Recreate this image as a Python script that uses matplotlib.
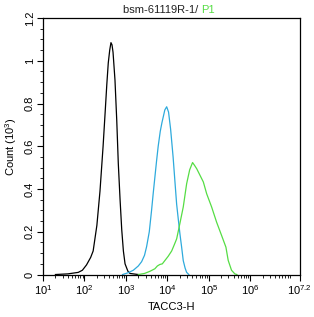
import numpy as np
import matplotlib
matplotlib.use("Agg")
import matplotlib.pyplot as plt
from matplotlib.ticker import FixedLocator, MultipleLocator

plt.rcParams['font.family'] = ['Liberation Sans', 'DejaVu Sans']
plt.rcParams['mathtext.fontset'] = 'custom'
plt.rcParams['mathtext.rm'] = 'Liberation Sans'

# log10(TACC3-H) positions and counts (x 10^3)
black_log = [1.30, 1.6, 1.85, 1.95, 2.05, 2.15, 2.21, 2.3, 2.375, 2.45, 2.5, 2.54, 2.575,
             2.61, 2.64, 2.665, 2.69, 2.737, 2.78, 2.817, 2.86, 2.9, 2.94, 2.98, 3.05,
             3.1, 3.3]
black_cnt = [0.0, 0.003, 0.01, 0.02, 0.045, 0.08, 0.11, 0.23, 0.39, 0.60, 0.76, 0.89, 0.99,
             1.05, 1.085, 1.075, 1.04, 0.91, 0.72, 0.52, 0.35, 0.21, 0.11, 0.05, 0.015,
             0.005, 0.0]

blue_log = [2.92, 3.05, 3.18, 3.30, 3.38, 3.45, 3.50, 3.565, 3.62, 3.66, 3.74, 3.78,
            3.83, 3.87, 3.94, 3.985, 4.03, 4.08, 4.14, 4.19, 4.225, 4.27, 4.305, 4.346,
            4.385, 4.43, 4.467, 4.52]
blue_cnt = [0.0, 0.008, 0.02, 0.04, 0.06, 0.09, 0.13, 0.20, 0.30, 0.38, 0.53, 0.60,
            0.67, 0.71, 0.77, 0.785, 0.76, 0.68, 0.55, 0.42, 0.33, 0.25, 0.19, 0.128,
            0.065, 0.03, 0.01, 0.0]

green_log = [3.30, 3.45, 3.58, 3.70, 3.76, 3.82, 3.88, 3.94, 4.02, 4.105, 4.17, 4.226,
             4.305, 4.385, 4.467, 4.54, 4.61, 4.66, 4.71, 4.79, 4.87, 4.95, 5.07,
             5.19, 5.31, 5.415, 5.47, 5.55, 5.63, 5.68]
green_cnt = [0.0, 0.005, 0.015, 0.027, 0.04, 0.047, 0.05, 0.065, 0.085, 0.11, 0.14, 0.167,
             0.24, 0.316, 0.425, 0.49, 0.524, 0.51, 0.495, 0.464, 0.433, 0.378, 0.316,
             0.245, 0.183, 0.128, 0.066, 0.02, 0.003, 0.0]

xtick_exp = [1, 2, 3, 4, 5, 6, 7.2]
xtick_lbl = ['1', '2', '3', '4', '5', '6', '7.2']

fig = plt.figure(figsize=(3.14, 3.17), dpi=100)
ax = fig.add_axes([0.137, 0.134, 0.818, 0.809])

ax.plot(10 ** np.array(black_log), black_cnt, color='black', lw=0.9)
ax.plot(10 ** np.array(blue_log), blue_cnt, color='#2eaadc', lw=0.9)
ax.plot(10 ** np.array(green_log), green_cnt, color='#55dd44', lw=0.9)

ax.set_xscale('log')
ax.set_xlim(10, 10 ** 7.2)
ax.set_ylim(0, 1.2)

ax.xaxis.set_major_locator(FixedLocator([10 ** e for e in xtick_exp]))
ax.set_xticklabels(['$\\mathdefault{10^{%s}}$' % s for s in xtick_lbl])
minors = [m * 10 ** d for d in range(1, 7) for m in range(2, 10) if m * 10 ** d < 10 ** 7.2]
ax.xaxis.set_minor_locator(FixedLocator(minors))
ax.xaxis.set_minor_formatter(plt.NullFormatter())

ax.yaxis.set_major_locator(MultipleLocator(0.2))
ax.yaxis.set_minor_locator(MultipleLocator(0.05))
ax.set_yticks(np.arange(0, 1.21, 0.2))
ax.set_yticklabels(['0', '0.2', '0.4', '0.6', '0.8', '1', '1.2'], rotation=90, va='center')

ax.tick_params(which='major', length=4, width=0.8, labelsize=8, pad=2)
ax.tick_params(which='minor', length=2, width=0.6)
for s in ax.spines.values():
    s.set_linewidth(0.9)

ax.set_xlabel('TACC3-H', fontsize=8, labelpad=4)
ax.set_ylabel('Count (10$^{3}$)', fontsize=8, labelpad=4)

fig.text(0.64, 0.97, 'bsm-61119R-1/ ', fontsize=8, ha='right', va='center', color='#222222')
fig.text(0.64, 0.97, 'P1', fontsize=8, ha='left', va='center', color='#55dd44')

fig.savefig('out.png', dpi=100)
